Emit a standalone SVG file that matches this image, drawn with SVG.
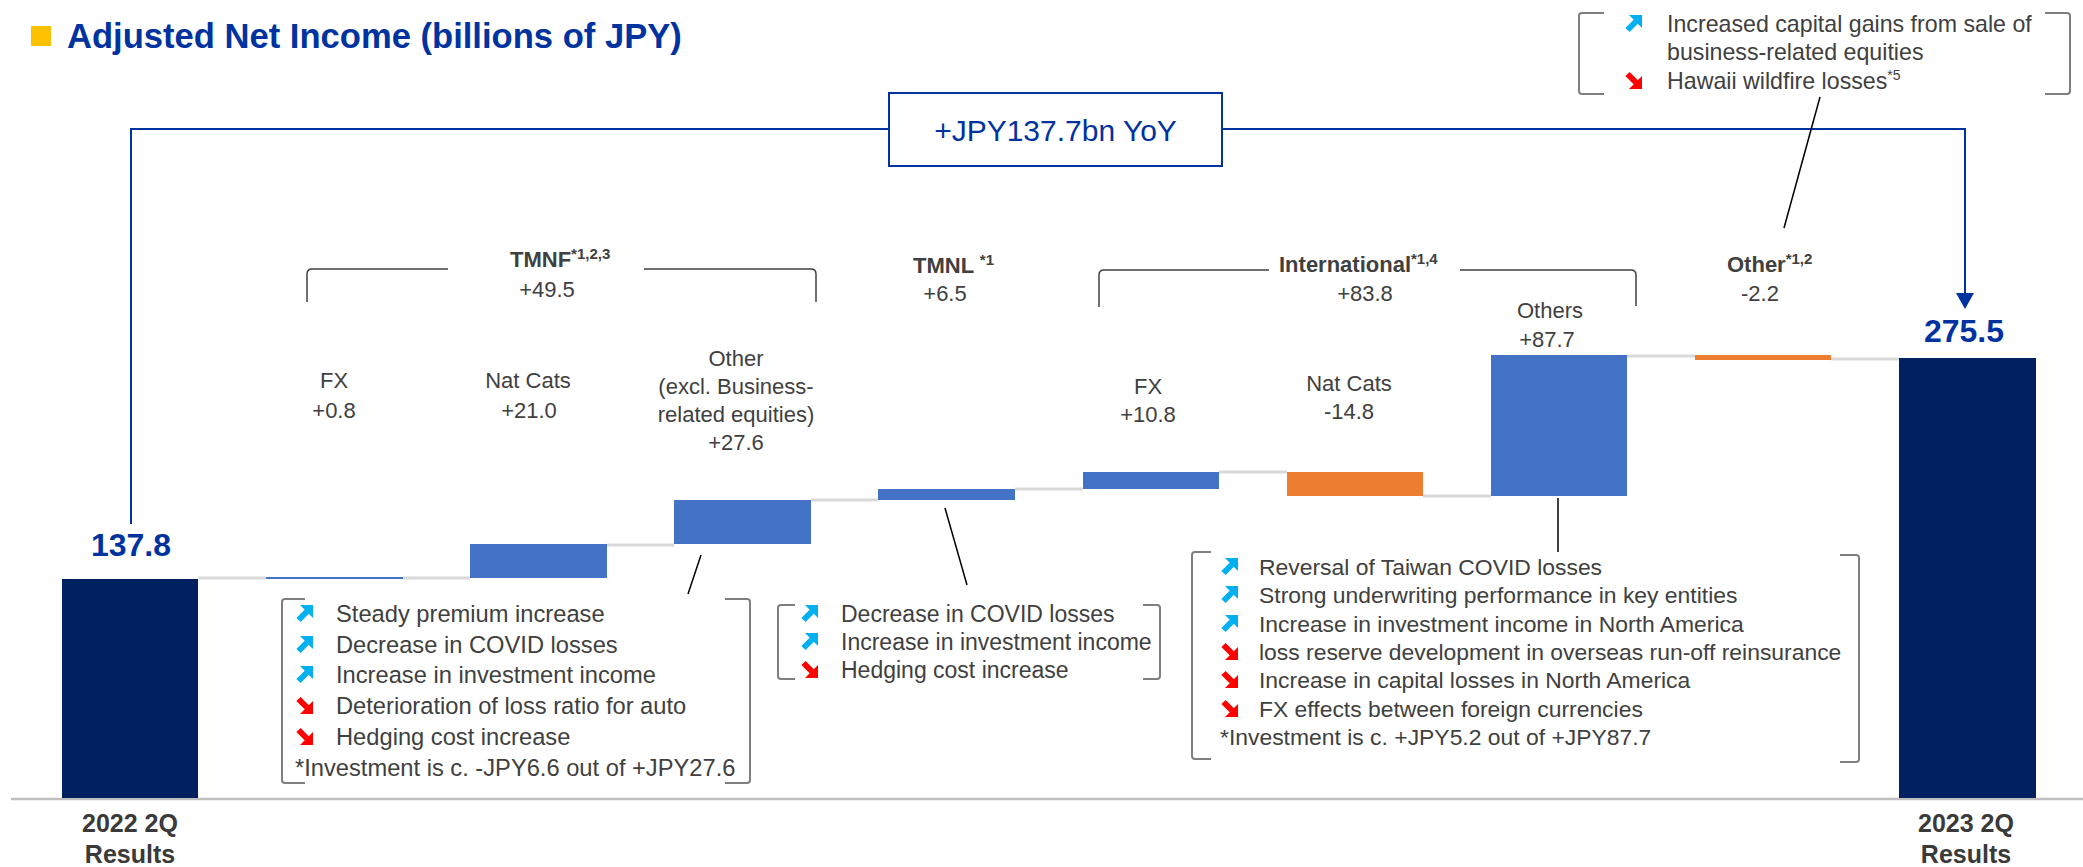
<svg xmlns="http://www.w3.org/2000/svg" width="2083" height="867" viewBox="0 0 2083 867">
<style>
  .t{font-family:"Liberation Sans",Arial,sans-serif;fill:#404040}
  .lbl{font-size:22px}
  .hd{font-size:22px;font-weight:bold}
  .sup{font-size:15px;font-weight:bold}
  .val{font-family:"Liberation Sans",Arial,sans-serif;font-size:32px;font-weight:bold;fill:#0033A0}
  .cat{font-family:"Liberation Sans",Arial,sans-serif;font-size:25px;font-weight:bold;fill:#3A3A3A}
  .bx1{font-size:23.7px}
  .bx2{font-size:23px}
  .bx3{font-size:22.9px}
  .bx4{font-size:23.2px}
  .brk{fill:none;stroke:#7F7F7F;stroke-width:2}
  .hbr{fill:none;stroke:#404040;stroke-width:1.5}
  .lead{fill:none;stroke:#000;stroke-width:1.5}
  .gc{stroke:#D9D9D9;stroke-width:3}
  .blue{fill:#4472C4}
  .orange{fill:#ED7D31}
  .navy{fill:#002060}
  .conn{fill:none;stroke:#0033A0;stroke-width:2}
</style>
<defs>
  <g id="up">
    <path d="M2.5,15 L11,6.5" stroke="#00B0F0" stroke-width="6" fill="none"/>
    <polygon points="4,0 17,0 17,13" fill="#00B0F0"/>
  </g>
  <g id="dn">
    <path d="M2.5,2 L11,10.5" stroke="#FF0000" stroke-width="6" fill="none"/>
    <polygon points="4,17 17,17 17,4" fill="#FF0000"/>
  </g>
</defs>

<g id="title">
  <rect x="31" y="26" width="20" height="20" fill="#FFC000"/>
  <text x="67" y="48" font-family="Liberation Sans,Arial,sans-serif" font-size="34.6" font-weight="bold" fill="#0033A0">Adjusted Net Income (billions of JPY)</text>
</g>

<g id="axis">
  <line x1="11" y1="799" x2="2083" y2="799" stroke="#BFBFBF" stroke-width="2.5"/>
</g>

<g id="connectors">
  <line class="gc" x1="198" y1="578" x2="266" y2="578"/>
  <line class="gc" x1="403" y1="578" x2="470" y2="578"/>
  <line class="gc" x1="607" y1="545" x2="674" y2="545"/>
  <line class="gc" x1="811" y1="500" x2="878" y2="500"/>
  <line class="gc" x1="1015" y1="489" x2="1083" y2="489"/>
  <line class="gc" x1="1219" y1="472" x2="1287" y2="472"/>
  <line class="gc" x1="1423" y1="496" x2="1491" y2="496"/>
  <line class="gc" x1="1627" y1="356" x2="1695" y2="356"/>
  <line class="gc" x1="1831" y1="359" x2="1899" y2="359"/>
  <polyline class="conn" points="131,524 131,129 889,129"/>
  <polyline class="conn" points="1222,129 1965,129 1965,295"/>
  <polygon points="1956,293 1974,293 1965,309" fill="#0033A0"/>
  <line class="lead" x1="701" y1="555" x2="688" y2="594"/>
  <line class="lead" x1="945" y1="508" x2="967" y2="585"/>
  <line class="lead" x1="1558" y1="498" x2="1558" y2="552"/>
  <line class="lead" x1="1820" y1="97" x2="1784" y2="228"/>
</g>

<g id="yoy-box">
  <rect x="889" y="93" width="333" height="73" fill="#fff" stroke="#0033A0" stroke-width="2"/>
  <text x="1055.5" y="141" text-anchor="middle" font-family="Liberation Sans,Arial,sans-serif" font-size="30" fill="#0033A0">+JPY137.7bn YoY</text>
</g>

<g id="bar-2022">
  <rect class="navy" x="62" y="579" width="136" height="219"/>
  <text class="val" x="131" y="556" text-anchor="middle">137.8</text>
  <text class="cat" x="130" y="832" text-anchor="middle">2022 2Q</text>
  <text class="cat" x="130" y="863" text-anchor="middle">Results</text>
</g>

<g id="tmnf-header">
  <path class="hbr" d="M307,302 V274 Q307,269 312,269 H448 M644,269 H811 Q816,269 816,274 V302"/>
  <text class="t hd" x="510" y="267">TMNF<tspan class="sup" dy="-8">*1,2,3</tspan></text>
  <text class="t lbl" x="547" y="297" text-anchor="middle">+49.5</text>
</g>

<g id="tmnf-fx">
  <rect class="blue" x="266" y="577" width="137" height="2"/>
  <text class="t lbl" x="334" y="388" text-anchor="middle">FX</text>
  <text class="t lbl" x="334" y="418" text-anchor="middle">+0.8</text>
</g>

<g id="tmnf-natcats">
  <rect class="blue" x="470" y="544" width="137" height="34"/>
  <text class="t lbl" x="528" y="388" text-anchor="middle">Nat Cats</text>
  <text class="t lbl" x="529" y="418" text-anchor="middle">+21.0</text>
</g>

<g id="tmnf-other">
  <rect class="blue" x="674" y="500" width="137" height="44"/>
  <text class="t lbl" x="736" y="366" text-anchor="middle">Other</text>
  <text class="t lbl" x="736" y="394" text-anchor="middle">(excl. Business-</text>
  <text class="t lbl" x="736" y="422" text-anchor="middle">related equities)</text>
  <text class="t lbl" x="736" y="450" text-anchor="middle">+27.6</text>
</g>

<g id="tmnl">
  <rect class="blue" x="878" y="489" width="137" height="11"/>
  <text class="t hd" x="913" y="273">TMNL <tspan class="sup" dy="-8">*1</tspan></text>
  <text class="t lbl" x="945" y="301" text-anchor="middle">+6.5</text>
</g>

<g id="intl-header">
  <path class="hbr" d="M1099,307 V275 Q1099,270 1104,270 H1269 M1460,270 H1631 Q1636,270 1636,275 V306"/>
  <text class="t hd" x="1279" y="272">International<tspan class="sup" dy="-8">*1,4</tspan></text>
  <text class="t lbl" x="1365" y="301" text-anchor="middle">+83.8</text>
</g>

<g id="intl-fx">
  <rect class="blue" x="1083" y="472" width="136" height="17"/>
  <text class="t lbl" x="1148" y="394" text-anchor="middle">FX</text>
  <text class="t lbl" x="1148" y="422" text-anchor="middle">+10.8</text>
</g>

<g id="intl-natcats">
  <rect class="orange" x="1287" y="472" width="136" height="24"/>
  <text class="t lbl" x="1349" y="391" text-anchor="middle">Nat Cats</text>
  <text class="t lbl" x="1349" y="419" text-anchor="middle">-14.8</text>
</g>

<g id="intl-others">
  <rect class="blue" x="1491" y="355" width="136" height="141"/>
  <text class="t lbl" x="1550" y="318" text-anchor="middle">Others</text>
  <text class="t lbl" x="1547" y="347" text-anchor="middle">+87.7</text>
</g>

<g id="other">
  <rect class="orange" x="1695" y="355" width="136" height="5"/>
  <text class="t hd" x="1727" y="272">Other<tspan class="sup" dy="-8">*1,2</tspan></text>
  <text class="t lbl" x="1760" y="301" text-anchor="middle">-2.2</text>
</g>

<g id="bar-2023">
  <rect class="navy" x="1899" y="358" width="137" height="440"/>
  <text class="val" x="1964" y="342" text-anchor="middle">275.5</text>
  <text class="cat" x="1966" y="832" text-anchor="middle">2023 2Q</text>
  <text class="cat" x="1966" y="863" text-anchor="middle">Results</text>
</g>

<g id="tmnf-box">
  <path class="brk" d="M305,599 H285 Q282,599 282,602 V780 Q282,783 285,783 H305 M725,599 H747 Q750,599 750,602 V780 Q750,783 747,783 H725"/>
  <use href="#up" x="296" y="605"/>
  <use href="#up" x="296" y="636"/>
  <use href="#up" x="296" y="666"/>
  <use href="#dn" x="296" y="697"/>
  <use href="#dn" x="296" y="728"/>
  <text class="t bx1" x="336" y="622">Steady premium increase</text>
  <text class="t bx1" x="336" y="653">Decrease in COVID losses</text>
  <text class="t bx1" x="336" y="683">Increase in investment income</text>
  <text class="t bx1" x="336" y="714">Deterioration of loss ratio for auto</text>
  <text class="t bx1" x="336" y="745">Hedging cost increase</text>
  <text class="t bx1" x="295" y="776">*Investment is c. -JPY6.6 out of +JPY27.6</text>
</g>

<g id="tmnl-box">
  <path class="brk" d="M795,605 H781 Q778,605 778,608 V676 Q778,679 781,679 H795 M1143,605 H1157 Q1160,605 1160,608 V676 Q1160,679 1157,679 H1143"/>
  <use href="#up" x="801" y="605"/>
  <use href="#up" x="801" y="633"/>
  <use href="#dn" x="801" y="661"/>
  <text class="t bx2" x="841" y="622">Decrease in COVID losses</text>
  <text class="t bx2" x="841" y="650">Increase in investment income</text>
  <text class="t bx2" x="841" y="678">Hedging cost increase</text>
</g>

<g id="intl-box">
  <path class="brk" d="M1211,552 H1195 Q1192,552 1192,555 V756 Q1192,759 1195,759 H1211 M1840,555 H1856 Q1859,555 1859,558 V759 Q1859,762 1856,762 H1840"/>
  <use href="#up" x="1221" y="558"/>
  <use href="#up" x="1221" y="586"/>
  <use href="#up" x="1221" y="615"/>
  <use href="#dn" x="1221" y="643"/>
  <use href="#dn" x="1221" y="671"/>
  <use href="#dn" x="1221" y="700"/>
  <text class="t bx3" x="1259" y="575">Reversal of Taiwan COVID losses</text>
  <text class="t bx3" x="1259" y="603">Strong underwriting performance in key entities</text>
  <text class="t bx3" x="1259" y="632">Increase in investment income in North America</text>
  <text class="t bx3" x="1259" y="660">loss reserve development in overseas run-off reinsurance</text>
  <text class="t bx3" x="1259" y="688">Increase in capital losses in North America</text>
  <text class="t bx3" x="1259" y="717">FX effects between foreign currencies</text>
  <text class="t bx3" x="1220" y="745">*Investment is c. +JPY5.2 out of +JPY87.7</text>
</g>

<g id="other-box">
  <path class="brk" d="M1604,13 H1582 Q1579,13 1579,16 V91 Q1579,94 1582,94 H1604 M2045,13 H2067 Q2070,13 2070,16 V91 Q2070,94 2067,94 H2045"/>
  <use href="#up" x="1625" y="15"/>
  <use href="#dn" x="1625" y="72"/>
  <text class="t bx4" x="1667" y="32">Increased capital gains from sale of</text>
  <text class="t bx4" x="1667" y="60">business-related equities</text>
  <text class="t bx4" x="1667" y="89">Hawaii wildfire losses<tspan font-size="14" dy="-9">*5</tspan></text>
</g>
</svg>
